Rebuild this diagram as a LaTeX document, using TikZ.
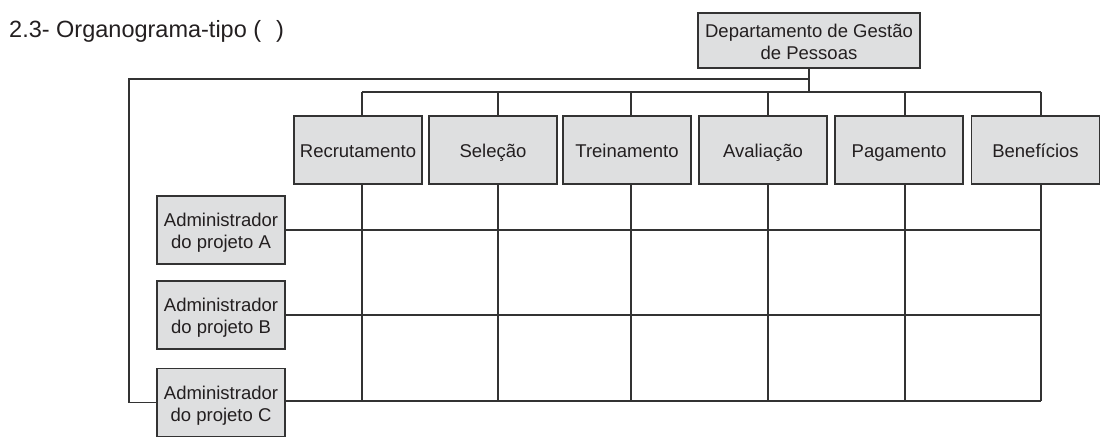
\documentclass[tikz,border=0pt]{standalone}
\usepackage{fontspec}
\setmainfont{Liberation Sans}
\definecolor{linec}{HTML}{333333}
\definecolor{boxfill}{HTML}{DEDFE0}
\definecolor{txt}{HTML}{231F20}
\begin{document}
\begin{tikzpicture}[x=1pt,y=-1pt,
  box/.style={draw=linec, fill=boxfill, line width=1.2pt, inner sep=0pt,
    minimum width=128pt, minimum height=68pt, align=center,
    text height=15pt, text depth=0pt,
    font=\fontsize{18.5}{22}\selectfont, text=txt},
  boxtwo/.style={box, text height=37pt},
  conn/.style={draw=linec, line width=1.2pt}]
\useasboundingbox (0,0) rectangle (1101,439);

\node[anchor=base west, font=\fontsize{23.5}{28}\selectfont, text=txt, inner sep=0pt]
  (title) at (9,37) {2.3- Organograma-tipo (\hspace{15pt})};

\node[boxtwo, minimum width=222pt, minimum height=55pt] (dept) at (809,40.5)
  {Departamento de Gestão\\de Pessoas};

\node[box] (f1) at (358,150) {Recrutamento};
\node[box] (f2) at (493,150) {Seleção};
\node[box] (f3) at (627,150) {Treinamento};
\node[box] (f4) at (763,150) {Avaliação};
\node[box] (f5) at (899,150) {Pagamento};
\node[box] (f6) at (1035.5,150) {Benefícios};

\node[boxtwo] (a1) at (221,230) {Administrador\\do projeto A};
\node[boxtwo] (a2) at (221,315) {Administrador\\do projeto B};
\node[boxtwo] (a3) at (221,402.5) {Administrador\\do projeto C};

% column coordinates
\coordinate (t1) at (362,92);  \coordinate (b1) at (362,401);
\coordinate (t2) at (498,92);  \coordinate (b2) at (498,401);
\coordinate (t3) at (631,92);  \coordinate (b3) at (631,401);
\coordinate (t4) at (768,92);  \coordinate (b4) at (768,401);
\coordinate (t5) at (905,92);  \coordinate (b5) at (905,401);
\coordinate (t6) at (1041,92); \coordinate (b6) at (1041,401);
\coordinate (br) at (808,79);
\coordinate (lc) at (129,79);

% top distribution
\draw[conn] (dept.south) -- (dept.south |- t1);
\draw[conn] (t1) -- (t6);
\draw[conn] (br) -- (lc) |- (a3.west);

\foreach \i in {1,...,6}{
  \draw[conn] (t\i) -- (t\i |- f\i.north);
  \draw[conn] (t\i |- f\i.south) -- (b\i);
}

% rows
\draw[conn] (a1.east) -- (a1.east -| b6);
\draw[conn] (a2.east) -- (a2.east -| b6);
\draw[conn] (a3.east |- b1) -- (b6);
\end{tikzpicture}
\end{document}
